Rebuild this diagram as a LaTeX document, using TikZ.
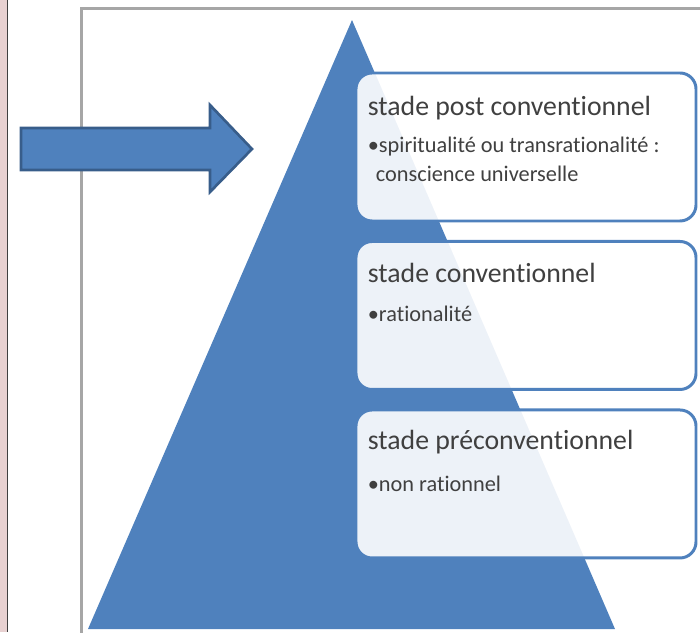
\documentclass[tikz,border=0pt]{standalone}
\usepackage{fontspec}
\setmainfont{Carlito}[Ligatures=NoCommon]
\usetikzlibrary{positioning}
\definecolor{stageblue}{HTML}{4F81BD}
\definecolor{stageedge}{HTML}{385D8A}
\definecolor{stagetext}{HTML}{404040}
\definecolor{sidepink}{HTML}{E8D1D1}

\begin{document}
\begin{tikzpicture}
        % Define styles for shapes
        \tikzset{
            stagebox/.style={draw=stageblue, line width=1.7pt, rounded corners=0.32cm, fill=white, fill opacity=0.9, minimum width=6.8cm, minimum height=2.96cm, inner sep=0pt},
            stagetitle/.style={text=stagetext, font=\fontsize{15.8}{19}\selectfont, inner sep=0pt, anchor=base west},
            stageitem/.style={text=stagetext, font=\fontsize{12.7}{16.5}\selectfont, inner sep=0pt, align=left, anchor=base west}
        }
        \clip (0,0) rectangle (14,-12.64);
        % Draw background
        \fill[sidepink] (0,0) rectangle (0.13,-12.64);
        \fill[black!75] (0.13,0) rectangle (0.16,-12.64);
        \draw[black!35, line width=1.2pt] (1.63,-0.17) rectangle (14.6,-13);
        % Draw pyramid
        \fill[stageblue] (7.04,-0.4) -- (12.3,-12.58) -- (1.76,-12.58) -- cycle;
        % Draw arrow
        \draw[stageedge, fill=stageblue, line width=1.5pt] (0.42,-2.56) -- (4.2,-2.56) -- (4.2,-2.1) -- (5.04,-2.98) -- (4.2,-3.84) -- (4.2,-3.4) -- (0.42,-3.4) -- cycle;
        % Draw boxes
        \node[stagebox, anchor=north west] (post) at (7.09,-1.43) {};
        \node[stagebox, below=0.35cm of post] (conv) {};
        \node[stagebox, below=0.35cm of conv] (pre) {};
        % Titles and items (base = last line)
        \node[stagetitle] (posttitle) at ([shift={(0.26,-0.88)}]post.north west) {stade post conventionnel};
        \node[stageitem] (postitem) at ([shift={(0.26,-2.2)}]post.north west) {\textbullet spiritualité ou transrationalité :\\\hspace*{0.16cm}conscience universelle};
        \node[stagetitle] (convtitle) at ([shift={(0.26,-0.86)}]conv.north west) {stade conventionnel};
        \node[stageitem] (convitem) at ([shift={(0.26,-1.64)}]conv.north west) {\textbullet rationalité};
        \node[stagetitle] (pretitle) at ([shift={(0.26,-0.82)}]pre.north west) {stade préconventionnel};
        \node[stageitem] (preitem) at ([shift={(0.26,-1.66)}]pre.north west) {\textbullet non rationnel};
    \end{tikzpicture}
\end{document}
